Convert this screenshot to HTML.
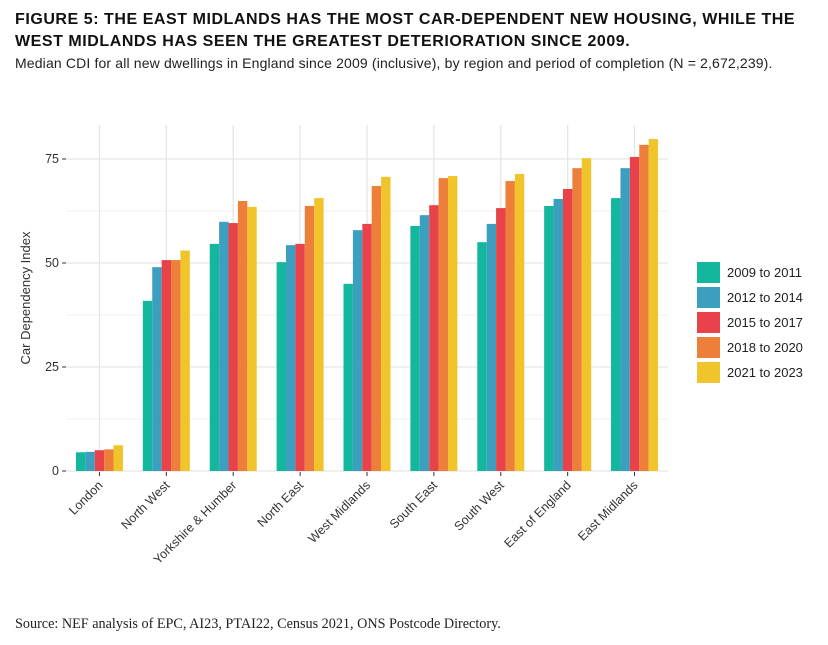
<!DOCTYPE html>
<html><head><meta charset="utf-8"><style>
body{margin:0;background:#fff;width:828px;height:645px;overflow:hidden;font-family:"Liberation Sans",sans-serif}
.t{position:absolute;left:15px;top:9px;font-weight:bold;font-size:16px;line-height:22px;color:#111;white-space:nowrap;letter-spacing:0.55px}
.s{position:absolute;left:15px;top:55px;font-size:14px;color:#222;white-space:nowrap;letter-spacing:0.15px}
.src{position:absolute;left:15px;top:616px;font-family:"Liberation Serif",serif;font-size:14.2px;color:#222;white-space:nowrap}
</style></head><body>
<div class="t">FIGURE 5: THE EAST MIDLANDS HAS THE MOST CAR-DEPENDENT NEW HOUSING, WHILE THE<br>WEST MIDLANDS HAS SEEN THE GREATEST DETERIORATION SINCE 2009.</div>
<div class="s">Median CDI for all new dwellings in England since 2009 (inclusive), by region and period of completion (N = 2,672,239).</div>
<svg id="c" width="828" height="645" style="position:absolute;left:0;top:0"></svg>
<div class="src">Source: NEF analysis of EPC, AI23, PTAI22, Census 2021, ONS Postcode Directory.</div>
<script>
const categories=["London","North West","Yorkshire & Humber","North East","West Midlands","South East","South West","East of England","East Midlands"];
const series=["2009 to 2011","2012 to 2014","2015 to 2017","2018 to 2020","2021 to 2023"];
const colors=["#13b79d","#3d9fbf","#e8434a","#ed7f3a","#f0c42a"];
const v2009=[4.5,40.9,54.6,50.2,45.0,58.9,55.0,63.7,65.6];
const v2012=[4.6,49.0,59.9,54.3,57.9,61.5,59.4,65.4,72.8];
const v2015=[5.0,50.7,59.6,54.6,59.4,63.9,63.2,67.8,75.5];
const v2018=[5.2,50.7,64.9,63.7,68.5,70.4,69.7,72.8,78.4];
const v2021=[6.2,53.0,63.5,65.6,70.7,70.9,71.4,75.2,79.8];
const yTicks=[0,25,50,75];
const values=[v2009,v2012,v2015,v2018,v2021];
const svg=document.getElementById('c'),NS="http://www.w3.org/2000/svg";
const x0=66,x1=668,yTop=125,yBot=490;
const y=v=>471-v*4.16;
const step=(x1-x0)/categories.length;
const xc=i=>x0+step*(i+0.5);
const bw=9.4;
function mk(t,a){const e=document.createElementNS(NS,t);for(const k in a)e.setAttribute(k,a[k]);svg.appendChild(e);return e;}
for(let i=0;i<yTicks.length-1;i++){const l=mk('line',{x1:x0,x2:x1,y1:y((yTicks[i]+yTicks[i+1])/2),y2:y((yTicks[i]+yTicks[i+1])/2),stroke:'#f2f2f2','stroke-width':1});

}
yTicks.forEach(t=>{const l=mk('line',{x1:x0,x2:x1,y1:y(t),y2:y(t),stroke:'#e6e6e6','stroke-width':1.3});


const tl=mk('line',{x1:x0-4,x2:x0,y1:y(t),y2:y(t),stroke:'#333'});


const tx=mk('text',{x:x0-7,y:y(t)+4,'text-anchor':'end','font-size':12.5,fill:'#333','font-family':'Liberation Sans,sans-serif'});
tx.textContent=t;

});
categories.forEach((c,i)=>{const g=mk('line',{x1:xc(i),x2:xc(i),y1:yTop,y2:yBot-18,stroke:'#e6e6e6','stroke-width':1.3});


const tk=mk('line',{x1:xc(i),x2:xc(i),y1:yBot-18,y2:yBot-14,stroke:'#333'});


const tx=mk('text',{x:xc(i)+4,y:yBot-4,'text-anchor':'end','font-size':12.5,fill:'#333','font-family':'Liberation Sans,sans-serif',transform:`rotate(-45 ${xc(i)+4} ${yBot-4})`});
tx.textContent=c;


values.forEach((arr,s)=>{const bx=xc(i)+(s-2.5)*bw;const r=mk('rect',{x:bx,y:y(arr[i]),width:bw,height:y(0)-y(arr[i]),fill:colors[s]});

});});
const yl=mk('text',{x:30,y:298,'text-anchor':'middle','font-size':13,fill:'#333','font-family':'Liberation Sans,sans-serif',transform:'rotate(-90 30 298)'});
yl.textContent='Car Dependency Index';


series.forEach((s,i)=>{const ly=262+i*25;const r=mk('rect',{x:697,y:ly,width:23,height:21,fill:colors[i]});


const t=mk('text',{x:727,y:ly+15,'font-size':13,fill:'#222','font-family':'Liberation Sans,sans-serif'});
t.textContent=s;

});
</script>
</body></html>
